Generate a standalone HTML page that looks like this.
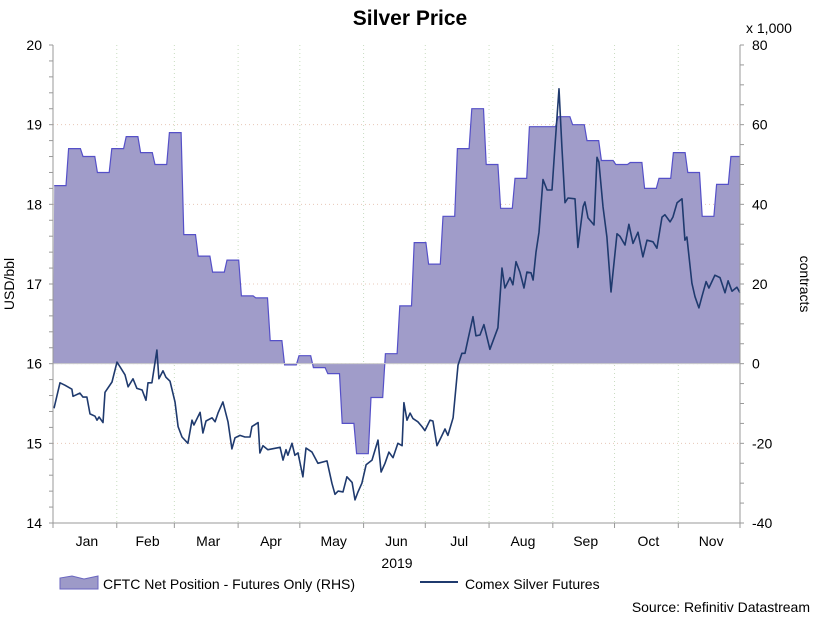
<!DOCTYPE html>
<html><head><meta charset="utf-8"><style>
body{margin:0;background:#fff;font-family:"Liberation Sans",Arial,sans-serif;}
svg text{font-family:"Liberation Sans",Arial,sans-serif;}
</style></head><body>
<svg id="chart" width="820" height="619" viewBox="0 0 820 619" xmlns="http://www.w3.org/2000/svg">
<text x="410" y="25" text-anchor="middle" font-size="21" font-weight="bold" fill="#000">Silver Price</text>
<g id="grid"></g>
<g id="area"></g>
<g id="line"></g>
<g id="axes"></g>
<text x="14" y="284" transform="rotate(-90 14 284)" text-anchor="middle" font-size="14">USD/bbl</text>
<text x="800" y="284" transform="rotate(90 800 284)" text-anchor="middle" font-size="14">contracts</text>
<text x="746" y="33" font-size="14">x 1,000</text>
<text x="397" y="568" text-anchor="middle" font-size="14">2019</text>
<g>
<polygon points="60,589 60,578 72,576 84,579 98,576 98,589" fill="#9d9ac8" stroke="#6a66c0"/>
<text x="103" y="589" font-size="14">CFTC Net Position - Futures Only (RHS)</text>
<line x1="420" y1="582" x2="458" y2="582" stroke="#1f3a6e" stroke-width="2"/>
<text x="465" y="589" font-size="14">Comex Silver Futures</text>
</g>
<text x="810" y="612" text-anchor="end" font-size="14">Source: Refinitiv Datastream</text>
</svg>
<script>
const monthLabels=["Jan","Feb","Mar","Apr","May","Jun","Jul","Aug","Sep","Oct","Nov"];
const monthStartDays=[0,31,59,90,120,151,181,212,243,273,304,334];
const leftTicks=[14,15,16,17,18,19,20];
const rightTicks=[-40,-20,0,20,40,60,80];
const cftcValues=[44.7,54,52,48,54,57,53,50,58,32.4,27,23,26,17,16.5,5.8,-0.3,2,-1,-2.5,-15,-22.6,-8.5,2.5,14.5,30.4,25,37,54,64,50,39,46.5,59.5,59.5,62,60,56,51,50,50.5,44,46.5,53,48,37,45,52];
const priceDays=[0.5,3.4,5.8,9.2,9.7,13.1,14.6,16.5,18,20.4,21.4,22.4,24.3,25.3,28.7,31.1,32.6,35,36.5,38.9,40.8,43.3,45.2,46.2,48.1,50.5,51.5,53.5,54.9,56.9,59.3,60.8,62.7,65.6,67.6,68.5,71.5,72.9,74.4,77.3,78.8,80.2,82.6,85.1,87,88.5,90.9,93.3,95.8,96.7,99.7,100.6,102.1,104.5,110.4,111.8,113.3,114.2,116.2,117.6,119.1,121.5,123,125.9,128.8,133.2,135.6,137.1,138.6,141,142.9,145.4,146.8,148.3,150.2,152.2,155.1,158,159.5,161.4,163.3,165.3,167.7,169.7,170.6,172.1,173.6,175,177.4,179.4,180.8,183.3,184.7,186.7,189.1,190.6,192,194.5,196.9,198.8,200.3,201.7,204.2,205.6,207.6,209.5,212.4,216.3,218.3,219.7,222.2,223.6,225.1,227,229,230.4,232.4,233.4,234.8,236.3,238.2,240.2,242.6,244,246,247.4,248.9,250.4,253.8,255.2,257.7,258.6,260.1,263,264.5,265.4,267.4,269.3,271.3,274.2,275.6,278.1,280,282,284.4,286.8,288.8,291.7,293.6,296.1,297.5,300,301.4,303.4,305.8,307.2,308.2,310.6,312.1,314,315.5,317.5,318.9,321.8,324.3,326.7,328.2,330.1,332.5,334];
const priceValues=[15.44,15.76,15.73,15.68,15.59,15.63,15.58,15.58,15.37,15.34,15.29,15.33,15.26,15.64,15.77,16.02,15.96,15.86,15.71,15.81,15.69,15.67,15.54,15.76,15.76,16.17,15.81,15.91,15.83,15.78,15.52,15.21,15.08,15.00,15.29,15.23,15.39,15.13,15.28,15.32,15.27,15.38,15.52,15.27,14.93,15.07,15.10,15.08,15.08,15.21,15.26,14.88,14.97,14.92,14.95,14.79,14.92,14.85,15.00,14.85,14.88,14.58,14.94,14.89,14.75,14.78,14.50,14.36,14.40,14.39,14.58,14.51,14.29,14.39,14.50,14.73,14.79,15.04,14.64,14.75,14.89,14.82,15.00,14.97,15.51,15.29,15.38,15.31,15.27,15.21,15.16,15.29,15.28,14.97,15.10,15.18,15.10,15.32,15.98,16.13,16.13,16.30,16.59,16.35,16.36,16.49,16.18,16.45,17.20,16.95,17.08,16.99,17.28,17.15,16.95,17.15,17.14,17.05,17.40,17.65,18.31,18.18,18.18,18.72,19.45,18.72,18.02,18.08,18.07,17.46,17.97,18.03,17.83,17.74,18.59,18.53,17.97,17.59,16.90,17.63,17.60,17.49,17.75,17.51,17.65,17.34,17.55,17.53,17.45,17.84,17.87,17.78,17.84,18.02,18.07,17.55,17.59,17.01,16.84,16.70,16.84,17.03,16.95,17.11,17.08,16.89,17.04,16.91,16.96,16.89];

const X0=53,X1=740,Y0=45,Y1=523,D1=334;
const xs=d=>X0+d*(X1-X0)/D1;
const yL=p=>Y0+(20-p)*(Y1-Y0)/6;
const yR=v=>Y0+(80-v)*(Y1-Y0)/120;
const NS="http://www.w3.org/2000/svg";
function mk(tag,attrs,parent){const e=document.createElementNS(NS,tag);for(const k in attrs)e.setAttribute(k,attrs[k]);parent.appendChild(e);return e;}
const grid=document.getElementById('grid'),axes=document.getElementById('axes');
leftTicks.forEach((t,i)=>{
  if(t>14&&t<20){const l=mk('line',{x1:X0,x2:X1,y1:yL(t),y2:yL(t),stroke:'#e8c8b8','stroke-dasharray':'1,3'},grid);
  
  }
  const tx=mk('text',{x:42,y:yL(t)+5,'text-anchor':'end','font-size':14},axes);tx.textContent=t;
  
  
});
rightTicks.forEach(t=>{
  const tx=mk('text',{x:752,y:yR(t)+5,'font-size':14},axes);tx.textContent=t;
  
  
});
for(let p=14;p<=20.001;p+=0.2){mk('line',{x1:X0-4,x2:X0,y1:yL(p),y2:yL(p),stroke:'#999'},axes);}
for(let v=-40;v<=80;v+=5){mk('line',{x1:X1,x2:X1+4,y1:yR(v),y2:yR(v),stroke:'#999'},axes);}
monthStartDays.forEach((d,i)=>{
  const x=xs(d);
  if(i>0&&i<11){const l=mk('line',{x1:x,x2:x,y1:Y0,y2:Y1,stroke:'#c8dcc0','stroke-dasharray':'1,3'},grid);
  
  }
  mk('line',{x1:x,x2:x,y1:Y1,y2:Y1+5,stroke:'#999'},axes);
  if(i<11){const tx=mk('text',{x:(xs(d)+xs(monthStartDays[i+1]))/2+2,y:546,'text-anchor':'middle','font-size':14},axes);tx.textContent=monthLabels[i];
  
  }
});
mk('line',{x1:X0,x2:X0,y1:Y0,y2:Y1,stroke:'#999'},axes);
mk('line',{x1:X1,x2:X1,y1:Y0,y2:Y1,stroke:'#999'},axes);
mk('line',{x1:X0,x2:X1,y1:Y1,y2:Y1,stroke:'#999'},axes);
let pts=[];
cftcValues.forEach((v,i)=>{const a=Math.max(0,7*i+0.6),b=Math.min(D1,7*i+6.3);pts.push([xs(a),yR(v)],[xs(b),yR(v)]);});
const z=yR(0);
let d='M'+X0+','+z+' '+pts.map(p=>'L'+p[0].toFixed(1)+','+p[1].toFixed(1)).join(' ')+' L'+X1+','+z+' Z';
const ar=document.getElementById('area');
const poly=mk('path',{d:d,fill:'#a09cc9',stroke:'none'},ar);


const outl=mk('path',{d:'M'+pts.map(p=>p[0].toFixed(1)+','+p[1].toFixed(1)).join(' L'),fill:'none',stroke:'#5550c8','stroke-width':1.2},ar);


mk('line',{x1:X0,x2:X1,y1:z,y2:z,stroke:'#ccc','stroke-width':1},ar);
const pl=mk('polyline',{points:priceDays.map((d,i)=>xs(d).toFixed(1)+','+yL(priceValues[i]).toFixed(1)).join(' '),fill:'none',stroke:'#1f3a6e','stroke-width':1.6,'stroke-linejoin':'round'},document.getElementById('line'));


</script>
</body></html>
